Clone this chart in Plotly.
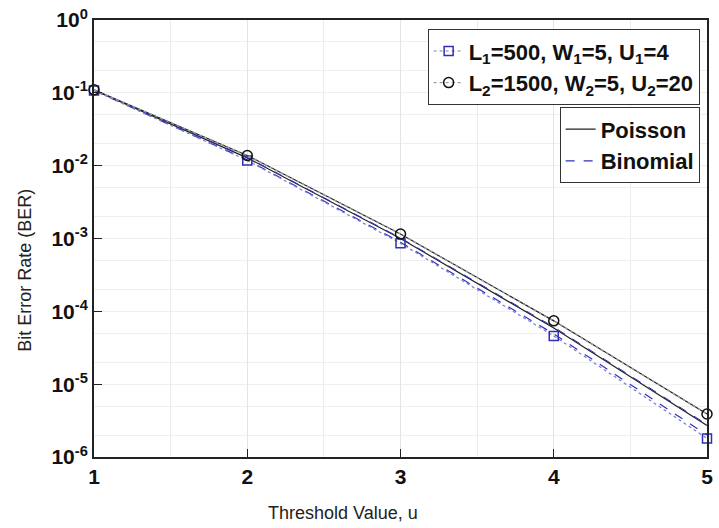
import plotly.graph_objects as go

# Threshold values and BER curves
threshold = [1, 2, 3, 4, 5]
ber_set1_sim = [0.108, 0.0118, 8.6e-4, 4.6e-5, 1.8e-6]      # L1=500, W1=5, U1=4
ber_set2_sim = [0.110, 0.0138, 1.15e-3, 7.4e-5, 3.9e-6]     # L2=1500, W2=5, U2=20
ber_set1_poisson = [0.109, 0.0128, 1.0e-3, 5.9e-5, 2.7e-6]
ber_set2_poisson = [0.110, 0.0138, 1.15e-3, 7.4e-5, 3.9e-6]
ber_set1_binomial = [0.108, 0.0120, 8.9e-4, 4.9e-5, 2.0e-6]
ber_set2_binomial = [0.109, 0.0130, 1.02e-3, 6.1e-5, 2.8e-6]

y_tick_vals = [1, 1e-1, 1e-2, 1e-3, 1e-4, 1e-5, 1e-6]
y_tick_text = ["10<sup>0</sup>", "10<sup>-1</sup>", "10<sup>-2</sup>", "10<sup>-3</sup>",
               "10<sup>-4</sup>", "10<sup>-5</sup>", "10<sup>-6</sup>"]
x_tick_vals = [1, 2, 3, 4, 5]

label1 = "L<sub>1</sub>=500, W<sub>1</sub>=5, U<sub>1</sub>=4"
label2 = "L<sub>2</sub>=1500, W<sub>2</sub>=5, U<sub>2</sub>=20"

FONT = "Liberation Sans, Arial, sans-serif"

fig = go.Figure()

# Theory curves
fig.add_trace(go.Scatter(x=threshold, y=ber_set1_poisson, mode="lines",
                         line=dict(color="#222222", width=1.2), showlegend=False))
fig.add_trace(go.Scatter(x=threshold, y=ber_set2_poisson, mode="lines", name="Poisson",
                         line=dict(color="#222222", width=1.2), legend="legend2"))
fig.add_trace(go.Scatter(x=threshold, y=ber_set1_binomial, mode="lines", name="Binomial",
                         line=dict(color="#3030c0", width=1.2, dash="dash"), legend="legend2"))
fig.add_trace(go.Scatter(x=threshold, y=ber_set2_binomial, mode="lines",
                         line=dict(color="#3030c0", width=1.0, dash="dash"), showlegend=False))

# Simulated points
fig.add_trace(go.Scatter(x=threshold, y=ber_set1_sim, mode="lines+markers", name=label1,
                         line=dict(color="#7a7ad0", width=1.2, dash="dot"),
                         marker=dict(symbol="square-open", size=9, color="#3030b0",
                                     line=dict(width=1.5)),
                         cliponaxis=False, legend="legend"))
fig.add_trace(go.Scatter(x=threshold, y=ber_set2_sim, mode="lines+markers", name=label2,
                         line=dict(color="#a0a0a0", width=1.2, dash="dot"),
                         marker=dict(symbol="circle-open", size=10, color="#111111",
                                     line=dict(width=1.5)),
                         cliponaxis=False, legend="legend"))

legend_font = dict(family=FONT, size=22, color="#111111", weight="bold")

w_plot = 719 - 94 - 6
h_plot = 528 - 20 - 71

fig.update_layout(
    width=719, height=528,
    margin=dict(l=94, r=6, t=20, b=71),
    paper_bgcolor="white", plot_bgcolor="white",
    font=dict(family=FONT, color="#111111"),
    legend=dict(x=0.988, y=0.979, xanchor="right", yanchor="top",
                bgcolor="white", bordercolor="#333333", borderwidth=1,
                font=legend_font, itemwidth=30, tracegroupgap=0),
    legend2=dict(x=0.988, y=0.80, xanchor="right", yanchor="top",
                 bgcolor="white", bordercolor="#333333", borderwidth=1,
                 font=legend_font, itemwidth=30, tracegroupgap=0),
    xaxis=dict(range=[1, 5], tickvals=x_tick_vals, ticks="inside", ticklen=8,
               tickwidth=1.2, tickcolor="#222222",
               tickfont=dict(size=21, family=FONT, color="#111111", weight="bold"),
               showline=True, linecolor="#222222", linewidth=2, mirror=True,
               showgrid=True, gridcolor="#e4e4e4", gridwidth=1,
               minor=dict(dtick=0.5, showgrid=True, gridcolor="#ececec"),
               zeroline=False),
    yaxis=dict(type="log", range=[-6, 0], tickvals=y_tick_vals, ticktext=y_tick_text,
               ticks="inside", ticklen=8, tickwidth=1.2, tickcolor="#222222",
               tickfont=dict(size=21, family=FONT, color="#111111", weight="bold"),
               showline=True, linecolor="#222222", linewidth=2, mirror=True,
               showgrid=False,
               minor=dict(showgrid=True, gridcolor="#efefef", gridwidth=1),
               zeroline=False),
    annotations=[
        dict(text="Threshold Value, u", xref="paper", yref="paper",
             x=(345 - 94) / w_plot, y=(528 - 71 - 513) / h_plot,
             xanchor="center", yanchor="middle",
             showarrow=False, font=dict(size=18, color="#222222")),
        dict(text="Bit Error Rate (BER)", xref="paper", yref="paper",
             x=(24 - 94) / w_plot, y=(528 - 71 - 270) / h_plot, textangle=-90,
             xanchor="center", yanchor="middle",
             showarrow=False, font=dict(size=18, color="#222222")),
    ],
)

fig.write_html("out.html")
